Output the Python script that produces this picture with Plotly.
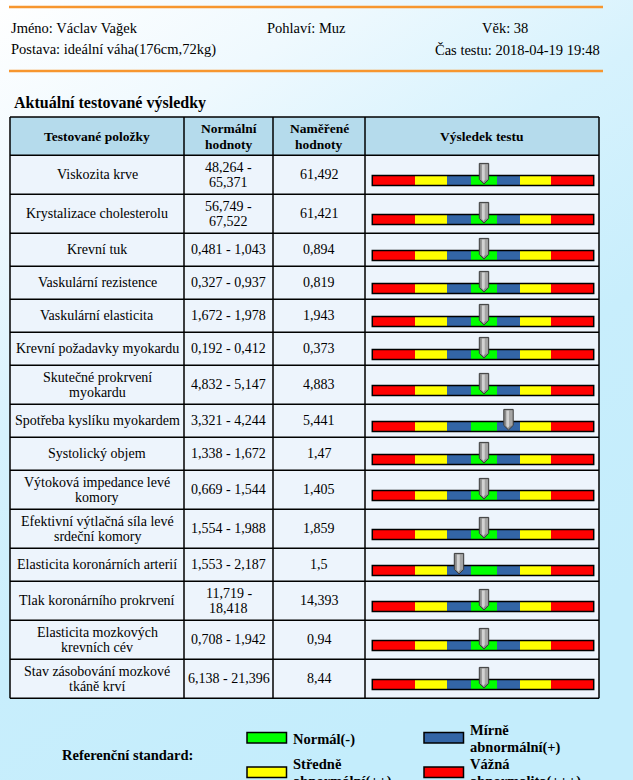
import base64
import plotly.graph_objects as go

# ---------------- data ----------------
patient_name = "Jméno: Václav Vağek"
patient_sex = "Pohlaví: Muz"
patient_age = "Věk: 38"
patient_body = "Postava: ideální váha(176cm,72kg)"
test_time = "Čas testu: 2018-04-19 19:48"
section_title = "Aktuální testované výsledky"

headers = ["Testované položky", "Normální<br>hodnoty", "Naměřené<br>hodnoty", "Výsledek testu"]

items = [
    "Viskozita krve",
    "Krystalizace cholesterolu",
    "Krevní tuk",
    "Vaskulární rezistence",
    "Vaskulární elasticita",
    "Krevní požadavky myokardu",
    "Skutečné prokrvení<br>myokardu",
    "Spotřeba kyslíku myokardem",
    "Systolický objem",
    "Výtoková impedance levé<br>komory",
    "Efektivní výtlačná síla levé<br>srdeční komory",
    "Elasticita koronárních arterií",
    "Tlak koronárního prokrvení",
    "Elasticita mozkových<br>krevních cév",
    "Stav zásobování mozkové<br>tkáně krví",
]
normal_low = [48.264, 56.749, 0.481, 0.327, 1.672, 0.192, 4.832, 3.321, 1.338, 0.669,
              1.554, 1.553, 11.719, 0.708, 6.138]
normal_high = [65.371, 67.522, 1.043, 0.937, 1.978, 0.412, 5.147, 4.244, 1.672, 1.544,
               1.988, 2.187, 18.418, 1.942, 21.396]
measured = [61.492, 61.421, 0.894, 0.819, 1.943, 0.373, 4.883, 5.441, 1.47, 1.405,
            1.859, 1.5, 14.393, 0.94, 8.44]

legend_title = "Referenční standard:"
legend_labels = ["Normál(-)", "Mírně<br>abnormální(+)", "Středně<br>abnormální(++)",
                 "Vážná<br>abnormalita(+++)"]

# ---------------- styling / layout constants ----------------
W, H = 633, 780
FONT = "Liberation Serif"
RED, YEL, BLU, GRN = "#ff0000", "#ffff00", "#3365a6", "#00ff00"
SEG_COLORS = [RED, YEL, BLU, GRN, BLU, YEL, RED]
GAUGE_EDGES = [372.3, 415, 447, 471, 497, 520, 551, 593.7]
COLS = [10, 184, 273, 365, 599]
TABLE_TOP = 117
HEADER_H = 38.3
ROW_H1, ROW_H2 = 33, 39
LINE_SP = 15.3


def fmt(v):
    return str(v).replace(".", ",")


def range_text(lo, hi):
    s = f"{fmt(lo)} - {fmt(hi)}"
    return s if len(s) <= 14 else f"{fmt(lo)} -<br>{fmt(hi)}"


def status(v, lo, hi):
    if v < lo:
        return -1
    if v > hi:
        return 1
    return 0


range_txt = [range_text(l, h) for l, h in zip(normal_low, normal_high)]
meas_txt = [fmt(v) for v in measured]
states = [status(v, l, h) for v, l, h in zip(measured, normal_low, normal_high)]

# row geometry
row_tops, row_h = [], []
y = TABLE_TOP + HEADER_H
for a, b, c in zip(items, range_txt, meas_txt):
    n = max(s.count("<br>") + 1 for s in (a, b, c))
    h = ROW_H2 if n > 1 else ROW_H1
    row_tops.append(y)
    row_h.append(h)
    y += h
TABLE_BOTTOM = y
row_mid = [t + h / 2 for t, h in zip(row_tops, row_h)]
bar_mid = [m + 5.6 for m in row_mid]

fig = go.Figure()
annos = []
shapes = []


def add_text(x, yc, text, size=14, bold=False, xanchor="center", sp=LINE_SP, yshift=0):
    lines = text.split("<br>")
    n = len(lines)
    for i, ln in enumerate(lines):
        annos.append(dict(
            x=x, y=yc + (i - (n - 1) / 2) * sp, xref="x", yref="y",
            text=f"<b>{ln}</b>" if bold else ln, showarrow=False,
            xanchor=xanchor, yanchor="middle", yshift=yshift,
            font=dict(family=FONT, size=size, color="#000000"),
        ))


# background gradient
svg = f"""<svg xmlns='http://www.w3.org/2000/svg' width='{W}' height='{H}'>
<defs><linearGradient id='g' x1='0' y1='0' x2='0.5' y2='1'>
<stop offset='0' stop-color='#ffffff'/>
<stop offset='0.22' stop-color='#eff9fe'/>
<stop offset='0.45' stop-color='#d6f2fd'/>
<stop offset='0.7' stop-color='#c8eefc'/>
<stop offset='1' stop-color='#c4edfc'/>
</linearGradient></defs>
<rect width='{W}' height='{H}' fill='url(#g)'/></svg>"""
bg_src = "data:image/svg+xml;base64," + base64.b64encode(svg.encode()).decode()

# header info
shapes.append(dict(type="line", x0=9, x1=603, y0=7, y1=7, xref="x", yref="y",
                   line=dict(color="#f7962f", width=2.5), layer="below"))
shapes.append(dict(type="line", x0=9, x1=603, y0=71, y1=71, xref="x", yref="y",
                   line=dict(color="#f7962f", width=2.5), layer="below"))
add_text(9, 28, patient_name, size=14.5, xanchor="left")
add_text(265, 28, patient_sex, size=14.5, xanchor="left")
add_text(480, 28, patient_age, size=14.5, xanchor="left")
add_text(9, 49.5, patient_body, size=14.5, xanchor="left")
add_text(602, 49.5, test_time, size=14.5, xanchor="right")
add_text(12, 103, section_title, size=16, bold=True, xanchor="left")

# table fills
shapes.append(dict(type="rect", x0=COLS[0], x1=COLS[-1], y0=TABLE_TOP, y1=TABLE_TOP + HEADER_H,
                   xref="x", yref="y", fillcolor="#b5dbec", line=dict(width=0), layer="below"))
shapes.append(dict(type="rect", x0=COLS[0], x1=COLS[-1], y0=TABLE_TOP + HEADER_H, y1=TABLE_BOTTOM,
                   xref="x", yref="y", fillcolor="#edf4fc", line=dict(width=0), layer="below"))
# grid lines
for cx in COLS:
    shapes.append(dict(type="line", x0=cx, x1=cx, y0=TABLE_TOP, y1=TABLE_BOTTOM, xref="x", yref="y",
                       line=dict(color="#000000", width=1.5), layer="below"))
for hy in [TABLE_TOP, TABLE_TOP + HEADER_H] + [t + h for t, h in zip(row_tops, row_h)]:
    shapes.append(dict(type="line", x0=COLS[0], x1=COLS[-1], y0=hy, y1=hy, xref="x", yref="y",
                       line=dict(color="#000000", width=1.5), layer="below"))

# header texts
hmid = TABLE_TOP + HEADER_H / 2
for i, htxt in enumerate(headers):
    add_text((COLS[i] + COLS[i + 1]) / 2, hmid, htxt, size=13.5, bold=True, sp=16)

# body texts
for r in range(len(items)):
    add_text((COLS[0] + COLS[1]) / 2, row_mid[r], items[r], size=14)
    add_text((COLS[1] + COLS[2]) / 2, row_mid[r], range_txt[r], size=14)
    add_text((COLS[2] + COLS[3]) / 2, row_mid[r], meas_txt[r], size=14)

# gauge segments
for j, col in enumerate(SEG_COLORS):
    left, right = GAUGE_EDGES[j], GAUGE_EDGES[j + 1]
    fig.add_trace(go.Bar(
        orientation="h", y=bar_mid, x=[right - left] * len(bar_mid), base=[left] * len(bar_mid),
        width=10, marker=dict(color=col, line=dict(width=0)), hoverinfo="skip", showlegend=False,
    ))
fig.add_trace(go.Bar(
    orientation="h", y=bar_mid, x=[GAUGE_EDGES[-1] - GAUGE_EDGES[0]] * len(bar_mid),
    base=[GAUGE_EDGES[0]] * len(bar_mid), width=10,
    marker=dict(color="rgba(0,0,0,0)", line=dict(color="#000000", width=1.5)),
    hoverinfo="skip", showlegend=False,
))

# pointers
for b, s in zip(bar_mid, states):
    k = 3 + s
    c = (GAUGE_EDGES[k] + GAUGE_EDGES[k + 1]) / 2
    shapes.append(dict(
        type="path", xref="x", yref="y",
        path=f"M {c-4.7},{b-17} L {c+4.7},{b-17} L {c+4.7},{b-1} L {c},{b+3.6} L {c-4.7},{b-1} Z",
        fillcolor="#8c8c8c", line=dict(color="#3a3a3a", width=1), layer="above"))
    shapes.append(dict(
        type="path", xref="x", yref="y",
        path=f"M {c-2.2},{b-16} L {c+0.9},{b-16} L {c+0.9},{b-0.3} L {c-0.6},{b+1.6} L {c-2.2},{b-0.3} Z",
        fillcolor="#d2d2d2", line=dict(width=0), layer="above"))
    shapes.append(dict(
        type="path", xref="x", yref="y",
        path=f"M {c+0.9},{b-16} L {c+3.9},{b-16} L {c+3.9},{b-1.2} L {c+0.9},{b-0.3} Z",
        fillcolor="#a5a5a5", line=dict(width=0), layer="above"))

# legend
add_text(60, 755, legend_title, size=14.5, bold=True, xanchor="left")
swatches = [(247, 732.5, GRN), (424, 732.5, BLU), (247, 767, YEL), (424, 767, RED)]
text_pos = [(290.5, 739), (468, 738.7), (290.5, 773), (468, 773)]
for (sx, sy, col), (tx, ty), lab in zip(swatches, text_pos, legend_labels):
    shapes.append(dict(type="rect", x0=sx, x1=sx + 39.5, y0=sy, y1=sy + 10.5, xref="x", yref="y",
                       fillcolor=col, line=dict(color="#000000", width=1.5), layer="above"))
    lines = lab.split("<br>")
    for i, ln in enumerate(lines):
        yy = ty + (i - (len(lines) - 1) / 2) * 17.3
        shift = 0
        if yy > 776:
            shift = -(yy - 776)
            yy = 776
        annos.append(dict(x=tx, y=yy, xref="x", yref="y", text=f"<b>{ln}</b>", showarrow=False,
                          xanchor="left", yanchor="middle", yshift=shift,
                          font=dict(family=FONT, size=14.5, color="#000000")))

fig.update_layout(
    width=W, height=H, margin=dict(l=0, r=0, t=0, b=0),
    paper_bgcolor="#ffffff", plot_bgcolor="rgba(0,0,0,0)",
    barmode="overlay", showlegend=False, hovermode=False,
    xaxis=dict(range=[0, W], visible=False, fixedrange=True, domain=[0, 1]),
    yaxis=dict(range=[H, 0], visible=False, fixedrange=True, domain=[0, 1]),
    annotations=annos, shapes=shapes,
    images=[dict(source=bg_src, xref="paper", yref="paper", x=0, y=1, sizex=1, sizey=1,
                 xanchor="left", yanchor="top", sizing="stretch", layer="below")],
)

fig.write_html(
    "out.html",
    config={"displayModeBar": False, "staticPlot": True},
    post_script="document.body.style.margin='0';document.body.style.overflow='hidden';",
)
